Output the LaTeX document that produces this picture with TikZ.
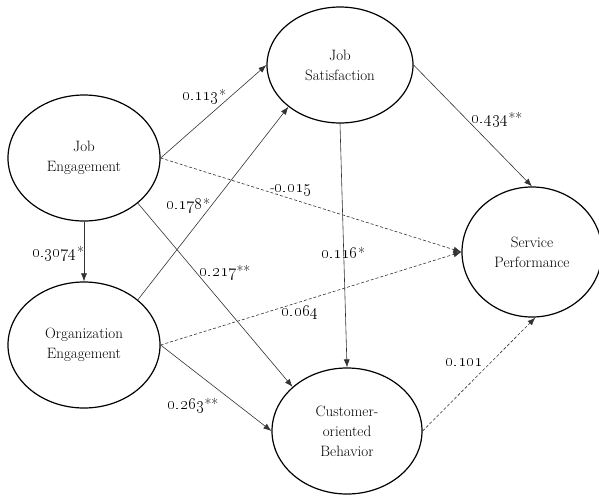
\documentclass[tikz,border=0pt]{standalone}
\usetikzlibrary{shapes.geometric,arrows.meta}
\newcommand\cnum[1]{{\fontsize{17.28}{18}\selectfont\oldstylenums{#1}}}
\begin{document}
\begin{tikzpicture}[x=1pt,y=-1pt,
  lat/.style={ellipse,draw=black,line width=1.2pt,inner sep=0pt,align=center,
    minimum width=152pt,minimum height=126pt,font=\fontsize{15}{20}\selectfont},
  arr/.style={draw=black!80,line width=0.6pt,-{Latex[length=8pt,width=6pt]}},
  dasharr/.style={arr,dash pattern=on 3pt off 2pt},
  coef/.style={font=\fontsize{15}{17}\selectfont,inner sep=0pt}]
\useasboundingbox (0,0) rectangle (599,495);
% latent variables
\node[lat] (je)  at (84,158)  {Job\\Engagement};
\node[lat] (oe)  at (84,345)  {Organization\\Engagement};
\node[lat,minimum width=146pt,minimum height=116pt] (js) at (340,65) {Job\\Satisfaction};
\node[lat,minimum width=140pt,minimum height=130pt] (sp) at (532,252) {Service\\Performance};
\node[lat,minimum width=150pt,minimum height=126pt] (cob) at (347,431) {Customer-\\oriented\\Behavior};
% paths
\draw[arr] (je.south) -- (oe.north);
\draw[arr] (je.east) -- (js.west);
\draw[dasharr] (je.east) -- (sp.west);
\draw[arr] (je.-40) -- (cob.141);
\draw[arr] (oe.40) -- (js.219);
\draw[dasharr] (oe.east) -- (sp.west);
\draw[arr] (oe.east) -- (cob.west);
\draw[arr] (js.east) -- (sp.north);
\draw[arr] (js.south) -- (cob.north);
\draw[dasharr] (cob.east) -- (sp.-87);
% coefficients
\node[coef] (c1) at (204,97)  {\cnum{0.113}*};
\node[coef] (c2) at (291,190) {-\cnum{0.015}};
\node[coef] (c3) at (188,206) {\cnum{0.178}*};
\node[coef] (c4) at (225,273) {\cnum{0.217}**};
\node[coef] (c5) at (343,253) {\cnum{0.116}*};
\node[coef] (c6) at (300,313) {\cnum{0.064}};
\node[coef] (c7) at (497,120) {\cnum{0.434}**};
\node[coef] (c8) at (58,254)  {\cnum{0.3074}*};
\node[coef] (c9) at (193,406) {\cnum{0.263}**};
\node[coef] (c10) at (464,363) {\cnum{0.101}};
\end{tikzpicture}
\end{document}
